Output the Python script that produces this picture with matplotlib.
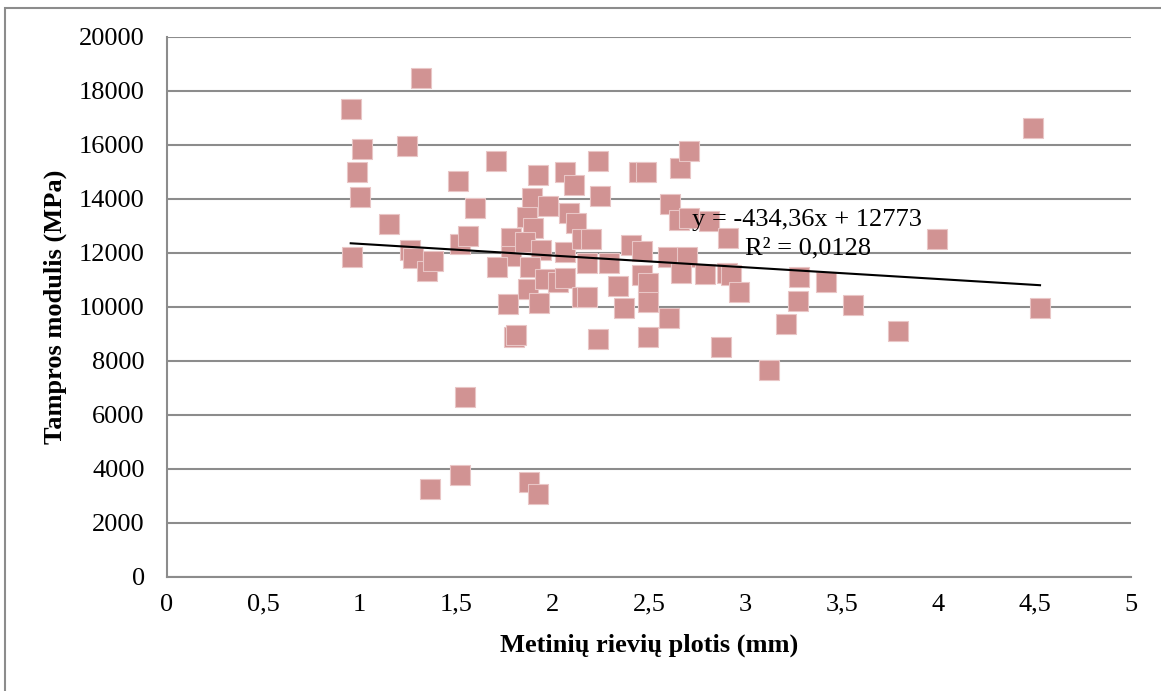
import matplotlib
matplotlib.use("Agg")
import matplotlib.pyplot as plt
from matplotlib.patches import Rectangle
from matplotlib.ticker import FuncFormatter

# ring width (mm) vs modulus (MPa)
width = [0.953, 1.316, 0.984, 1.010, 1.000, 0.959, 1.150, 1.244, 1.259, 1.275,
         1.347, 1.378, 1.508, 1.518, 1.560, 1.596, 1.544, 1.363, 1.518, 1.705,
         1.782, 1.782, 1.710, 1.767, 1.798, 1.808, 1.870, 1.922, 2.062, 2.109,
         2.238, 2.446, 2.482, 2.663, 2.705, 1.891, 1.974, 1.865, 1.896, 2.083,
         2.119, 2.244, 2.611, 2.653, 2.705, 2.813, 2.912, 1.855, 1.938, 1.881,
         2.062, 2.155, 2.197, 2.176, 2.290, 2.409, 2.466, 2.596, 2.699, 2.668,
         2.793, 2.907, 2.927, 2.969, 2.466, 2.497, 2.337, 2.368, 2.497, 2.606,
         2.497, 2.876, 3.124, 3.212, 3.280, 3.275, 3.420, 3.560, 3.793, 3.995,
         4.492, 4.528, 1.959, 2.026, 2.062, 1.927, 2.150, 2.176, 2.238, 1.876,
         1.922]
modulus = [17330, 18480, 15000, 15850, 14070, 11850, 13070, 15960, 12110, 11815,
           11330, 11700, 14670, 12330, 12630, 13670, 6670, 3260, 3780, 15410,
           12560, 11890, 11480, 10110, 8890, 8960, 10670, 14890, 15000, 14520,
           15410, 15000, 15000, 15150, 15780, 14040, 13740, 13330, 12930, 13480,
           13110, 14110, 13815, 13220, 13300, 13185, 12560, 12410, 12110, 11480,
           12040, 12520, 12520, 11630, 11630, 12300, 12070, 11850, 11850, 11260,
           11220, 11260, 11185, 10560, 11185, 10890, 10780, 9960, 10185, 9590,
           8890, 8520, 7670, 9370, 11110, 10220, 10930, 10070, 9110, 12520,
           16630, 9960, 11040, 10930, 11070, 10150, 10370, 10370, 8815, 3520,
           3070]

slope = -434.36
intercept = 12773
r2 = 0.0128

plt.rcParams["font.family"] = ["Liberation Serif", "DejaVu Serif"]

fig = plt.figure(figsize=(11.61, 6.91), dpi=100)
ax = fig.add_axes([0.1438, 0.165, 0.8304, 0.7815])

ax.scatter(width, modulus, marker="s", s=210, facecolor="#D19393",
           edgecolor="#E9C6C6", linewidths=0.8, zorder=3)

x0, x1 = min(width), max(width)
ax.plot([x0, x1], [slope * x0 + intercept, slope * x1 + intercept],
        color="black", lw=1.5, zorder=4)

ax.text(0.5446, 0.661, "y = -434,36x + 12773", transform=ax.transAxes,
        fontsize=19, va="center", ha="left", zorder=5)
ax.text(0.5996, 0.609, "R² = 0,0128", transform=ax.transAxes,
        fontsize=19, va="center", ha="left", zorder=5)

ax.set_xlim(0, 5)
ax.set_ylim(0, 20000)
ax.set_xticks([0, 0.5, 1, 1.5, 2, 2.5, 3, 3.5, 4, 4.5, 5])
ax.set_yticks(range(0, 20001, 2000))
ax.xaxis.set_major_formatter(FuncFormatter(lambda v, p: f"{v:g}".replace(".", ",")))
ax.tick_params(axis="both", length=0, labelsize=19)
ax.tick_params(axis="y", pad=16)
ax.tick_params(axis="x", pad=12)
ax.grid(axis="y", color="#8c8c8c", lw=1.5)
ax.set_axisbelow(True)
for s in ["top", "right"]:
    ax.spines[s].set_visible(False)
for s in ["left", "bottom"]:
    ax.spines[s].set_color("#8c8c8c")
    ax.spines[s].set_linewidth(1.5)

ax.set_xlabel("Metinių rievių plotis (mm)", fontsize=19, fontweight="bold")
ax.set_ylabel("Tampros modulis (MPa)", fontsize=19, fontweight="bold")
ax.xaxis.set_label_coords(0.5, -0.104)
ax.yaxis.set_label_coords(-0.104, 0.5)

fig.patches.append(Rectangle((5 / 1161, -0.05), 1.1, 1 - 8 / 691 + 0.05,
                             transform=fig.transFigure, fill=False,
                             edgecolor="#8c8c8c", lw=1.5))

fig.savefig("out.png", dpi=100)
plt.close()
